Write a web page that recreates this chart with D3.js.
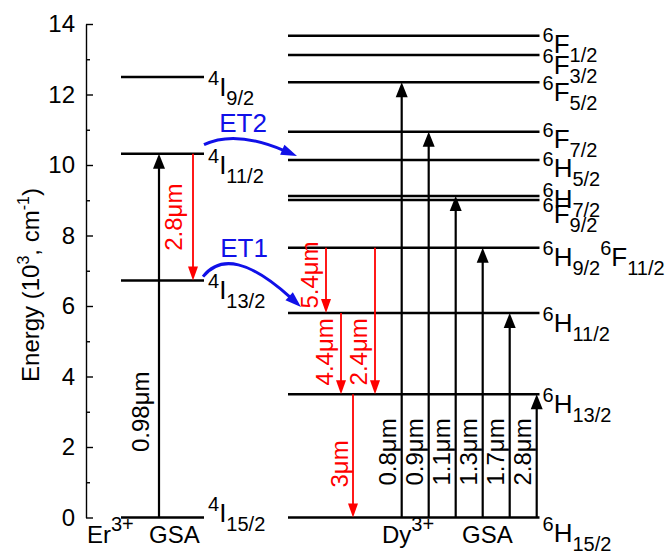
<!DOCTYPE html>
<html>
<head>
<meta charset="utf-8">
<script src="https://cdn.jsdelivr.net/npm/d3@7"></script>
<style>
  html, body { margin: 0; padding: 0; background: #fff; }
  svg { display: block; font-family: "Liberation Sans", Arial, Helvetica, sans-serif; }
</style>
</head>
<body>
<svg id="chart" width="671" height="551"></svg>
<script>
// ---- data (energies in 10^3 cm^-1) ----
const majorTicks = [0, 2, 4, 6, 8, 10, 12, 14];
const minorTicks = [1, 3, 5, 7, 9, 11, 13];

// Er3+ manifolds
const erTerms    = ["4I15/2", "4I13/2", "4I11/2", "4I9/2"];
const erEnergies = [0, 6.72, 10.32, 12.5];

// Dy3+ manifolds
const dyTerms    = ["6H15/2", "6H13/2", "6H11/2", "6H9/2 6F11/2", "6F9/2", "6H7/2",
                    "6H5/2", "6F7/2", "6F5/2", "6F3/2", "6F1/2"];
const dyEnergies = [0, 3.50, 5.80, 7.65, 9.01, 9.12, 10.14, 10.94, 12.35, 13.12, 13.67];

// Er3+ pump (GSA) and emission
const erPumpLabel = "0.98μm", erPumpFrom = 0, erPumpTo = 10.32;
const erEmitLabel = "2.8μm",  erEmitFrom = 10.32, erEmitTo = 6.72;

// Dy3+ ground-state absorption
const dyGsaLabels  = ["0.8μm", "0.9μm", "1.1μm", "1.3μm", "1.7μm", "2.8μm"];
const dyGsaTargets = [12.35, 10.94, 9.12, 7.65, 5.80, 3.50];

// Dy3+ emissions
const dyEmitLabels = ["5.4μm", "4.4μm", "2.4μm", "3μm"];
const dyEmitFrom   = [7.65, 5.80, 7.65, 3.50];
const dyEmitTo     = [5.80, 3.50, 3.50, 0];

// Er -> Dy energy transfer
const etNames = ["ET1", "ET2"];
const etFrom  = [6.72, 10.32];
const etTo    = [5.80, 10.14];

// ---- layout ----
const axisX = 86;
const y = d3.scaleLinear().domain([0, 14]).range([517.5, 24]);

const erCol = { x0: 121, x1: 204, pump: 159, emit: 193 };
const dyCol = { x0: 288, x1: 539.5 };
const gsaX = d3.scalePoint().domain(dyGsaLabels).range([401.7, 536.7]);
const emitX = { "5.4μm": 326, "4.4μm": 341, "2.4μm": 375, "3μm": 353 };
// vertical centre (energy units) of rotated wavelength labels
const emitLabelAt = { "5.4μm": 6.88, "4.4μm": 4.70, "2.4μm": 4.70, "3μm": 1.52 };
const emitLabelGap = { "5.4μm": 8, "4.4μm": 8, "2.4μm": 8, "3μm": 5 };
const gsaLabelAt = 1.86;
// small vertical nudges for crowded term labels (px)
const termShift = { "6F1/2": -1, "6F7/2": -2, "6H5/2": -2, "6H7/2": -7, "6F9/2": 5,
                    "6H15/2": 6, "4I15/2": -14, "4I9/2": 1, "4I11/2": 2 };
// energy-transfer curve geometry (px offsets from the connected levels)
const etGeom = {
  ET1: { x0: 203, dy0: -4, cx: 230, cyOff: -38, x1: 301, dy1: -6, tx: 244, ty: -20 },
  ET2: { x0: 204, dy0: -9, cx: 235, cyOff: -24, x1: 297, dy1: -4, tx: 243, ty: -13 }
};

const RED = "#ff0000", BLUE = "#1010e8";
const FS = 24, FS_TERM = 26, FS_SMALL = 20, FS_ROT = 24, FS_ET = 26;

const svg = d3.select("#chart");

// ---- axis ----
const axisG = svg.append("g").attr("transform", `translate(${axisX},0)`);
axisG.call(d3.axisLeft(y).tickValues(majorTicks).tickSizeInner(-7).tickSizeOuter(0)
  .tickPadding(11).tickFormat(d3.format("d")));
axisG.append("g").call(d3.axisLeft(y).tickValues(minorTicks).tickSizeInner(-4)
  .tickSizeOuter(0).tickFormat(""))
  .select(".domain").remove();
axisG.selectAll("path.domain").attr("stroke", "#000").attr("stroke-width", 1.4);
axisG.selectAll(".tick line").attr("stroke", "#000").attr("stroke-width", 1.4);
axisG.selectAll(".tick text").attr("font-size", FS).attr("font-family", null).attr("fill", "#000");

// y-axis title
const title = svg.append("text")
  .attr("transform", `translate(39,${285}) rotate(-90)`)
  .attr("text-anchor", "middle").attr("font-size", FS).attr("fill", "#000");
title.append("tspan").text("Energy (10");
title.append("tspan").attr("font-size", 16).attr("dy", -10).text("3");
title.append("tspan").attr("dy", 10).text(", cm");
title.append("tspan").attr("font-size", 16).attr("dy", -10).text("-1");
title.append("tspan").attr("dy", 10).text(")");

// ---- helpers ----
function termLabel(x, L, term) {
  const shift = termShift[term] || 0;
  const t = svg.append("text").attr("x", x).attr("y", L + 18.5 + shift)
    .attr("font-size", FS_TERM).attr("fill", "#000");
  term.split(" ").forEach(part => {
    t.append("tspan").attr("y", L + 7.5 + shift).attr("font-size", FS_SMALL).text(part[0]);
    t.append("tspan").attr("y", L + 18.5 + shift).text(part[1]);
    t.append("tspan").attr("y", L + 27.5 + shift).attr("font-size", FS_SMALL).text(part.slice(2));
  });
}

function arrow(x, eFrom, eTo, color, lw, headW, headL) {
  const y0 = y(eFrom), y1 = y(eTo);
  const dir = y1 < y0 ? -1 : 1;
  svg.append("line").attr("x1", x).attr("x2", x).attr("y1", y0).attr("y2", y1 - dir * (headL - 1))
    .attr("stroke", color).attr("stroke-width", lw);
  svg.append("path")
    .attr("d", `M${x},${y1} L${x - headW / 2},${y1 - dir * headL} L${x + headW / 2},${y1 - dir * headL} Z`)
    .attr("fill", color);
}

function rotLabel(x, cy, text, color) {
  svg.append("text").attr("transform", `translate(${x},${cy}) rotate(-90)`)
    .attr("text-anchor", "middle").attr("font-size", FS_ROT).attr("fill", color).text(text);
}

// ---- energy levels ----
erEnergies.forEach((e, i) => {
  svg.append("line").attr("x1", erCol.x0).attr("x2", erCol.x1).attr("y1", y(e)).attr("y2", y(e))
    .attr("stroke", "#000").attr("stroke-width", 2.5);
  termLabel(erCol.x1 + 4, y(e), erTerms[i]);
});
dyEnergies.forEach((e, i) => {
  svg.append("line").attr("x1", dyCol.x0).attr("x2", dyCol.x1).attr("y1", y(e)).attr("y2", y(e))
    .attr("stroke", "#000").attr("stroke-width", 2.5);
  termLabel(dyCol.x1 + 3, y(e), dyTerms[i]);
});

// ---- Er3+ transitions ----
arrow(erCol.pump, erPumpFrom, erPumpTo, "#000", 2.2, 12, 15);
rotLabel(erCol.pump - 10, y(3.0), erPumpLabel, "#000");
arrow(erCol.emit, erEmitFrom, erEmitTo, RED, 1.8, 10, 14);
rotLabel(erCol.emit - 11, y((erEmitFrom + erEmitTo) / 2), erEmitLabel, RED);

// ---- Dy3+ GSA ----
dyGsaLabels.forEach((lab, i) => {
  const x = gsaX(lab);
  arrow(x, 0, dyGsaTargets[i], "#000", 2.2, 12, 15);
  rotLabel(x - 6, y(gsaLabelAt), lab, "#000");
});

// ---- Dy3+ emissions ----
dyEmitLabels.forEach((lab, i) => {
  const x = emitX[lab];
  arrow(x, dyEmitFrom[i], dyEmitTo[i], RED, 1.8, 10, 14);
  rotLabel(x - emitLabelGap[lab], y(emitLabelAt[lab]), lab, RED);
});

// ---- energy transfer ----
etNames.forEach((name, i) => {
  const g = etGeom[name];
  const p0 = [g.x0, y(etFrom[i]) + g.dy0];
  const tip = [g.x1, y(etTo[i]) + g.dy1];
  const c = [g.cx, y(etFrom[i]) + g.cyOff];
  const dx = tip[0] - c[0], dy = tip[1] - c[1];
  const len = Math.hypot(dx, dy), ux = dx / len, uy = dy / len;
  const headL = 16, headW = 11;
  const end = [tip[0] - ux * (headL - 2), tip[1] - uy * (headL - 2)];
  svg.append("path")
    .attr("d", `M${p0[0]},${p0[1]} Q${c[0]},${c[1]} ${end[0]},${end[1]}`)
    .attr("fill", "none").attr("stroke", BLUE).attr("stroke-width", 3);
  const bx = tip[0] - ux * headL, by = tip[1] - uy * headL;
  svg.append("path")
    .attr("d", `M${tip[0]},${tip[1]} L${bx - uy * headW / 2},${by + ux * headW / 2} L${bx + uy * headW / 2},${by - ux * headW / 2} Z`)
    .attr("fill", BLUE);
  svg.append("text").attr("x", g.tx).attr("y", p0[1] + g.ty).attr("text-anchor", "middle")
    .attr("font-size", FS_ET).attr("fill", BLUE).text(name);
});

// ---- ion captions ----
function ionCaption(x, ion, gsaX0) {
  const t = svg.append("text").attr("x", x).attr("y", 543).attr("font-size", FS).attr("fill", "#000");
  t.append("tspan").text(ion);
  t.append("tspan").attr("font-size", FS_SMALL).attr("dy", -12).text("3+");
  svg.append("text").attr("x", gsaX0).attr("y", 543).attr("font-size", FS).attr("fill", "#000").text("GSA");
}
ionCaption(87, "Er", 149);
ionCaption(382, "Dy", 462);
</script>
</body>
</html>
